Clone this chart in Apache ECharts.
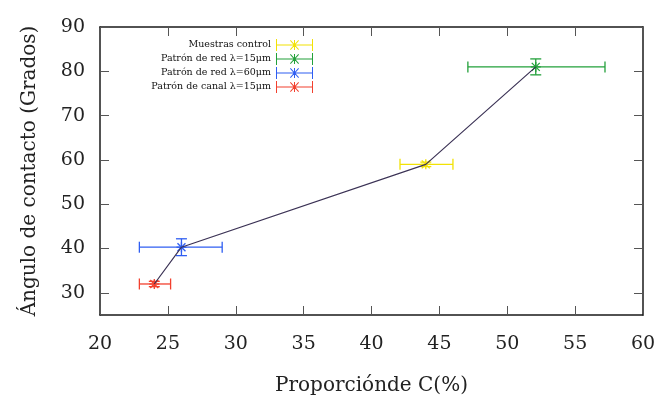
<!DOCTYPE html>
<html>
<head>
<meta charset="utf-8">
<script src="https://cdn.jsdelivr.net/npm/echarts@6/dist/echarts.min.js"></script>
<style>html,body{margin:0;padding:0;background:#fff;}#c{width:660px;height:398px;}</style>
</head>
<body>
<div id="c"></div>
<script>
// ---- data ----
const seriesNames = ['Muestras control', 'Patrón de red λ=15μm', 'Patrón de red λ=60μm', 'Patrón de canal λ=15μm'];
const seriesColors = ['#f2e205', '#22a03a', '#2f5ef2', '#f2402e'];
const xVals  = [44, 52.1, 26, 24];
const yVals  = [59, 81, 40.3, 32];
const xLow   = [42.1, 47.1, 22.9, 22.9];
const xHigh  = [46.0, 57.2, 29.0, 25.2];
const yLow   = [58.5, 79.2, 38.4, 31.4];
const yHigh  = [59.5, 82.8, 42.2, 32.6];
const xTicks = [20, 25, 30, 35, 40, 45, 50, 55, 60];
const yTicks = [30, 40, 50, 60, 70, 80, 90];

const FONT = 'DejaVu Serif';

const legendIcon = 'path://M0 5.5H37V6.5H0Z M0 0H1V12H0Z M36 0H37V12H36Z M18 1H19V11H18Z M13.5 5.5H23.5V6.5H13.5Z M14 1.7L14.7 1L23 10.3L22.3 11Z M22.3 1L23 1.7L14.7 11L14 10.3Z';

function errRender(params, api) {
  const x = api.value(0), y = api.value(1);
  const c = api.coord([x, y]);
  const pl = api.coord([api.value(2), y]);
  const ph = api.coord([api.value(3), y]);
  const ql = api.coord([x, api.value(4)]);
  const qh = api.coord([x, api.value(5)]);
  const col = api.visual('color');
  const st = { stroke: col, lineWidth: 1.3, fill: null };
  const cap = 5.5, r = 5, d = 4;
  const L = (x1, y1, x2, y2) => ({ type: 'line', shape: { x1, y1, x2, y2 }, style: st });
  return {
    type: 'group',
    children: [
      L(pl[0], pl[1], ph[0], ph[1]),
      L(pl[0], pl[1] - cap, pl[0], pl[1] + cap),
      L(ph[0], ph[1] - cap, ph[0], ph[1] + cap),
      L(ql[0], ql[1], qh[0], qh[1]),
      L(ql[0] - cap, ql[1], ql[0] + cap, ql[1]),
      L(qh[0] - cap, qh[1], qh[0] + cap, qh[1]),
      L(c[0] - r, c[1], c[0] + r, c[1]),
      L(c[0], c[1] - r, c[0], c[1] + r),
      L(c[0] - d, c[1] - d, c[0] + d, c[1] + d),
      L(c[0] - d, c[1] + d, c[0] + d, c[1] - d)
    ]
  };
}

const series = seriesNames.map((name, i) => ({
  name,
  type: 'custom',
  renderItem: errRender,
  itemStyle: { color: seriesColors[i] },
  encode: { x: 0, y: 1 },
  data: [[xVals[i], yVals[i], xLow[i], xHigh[i], yLow[i], yHigh[i]]],
  z: 2
}));

const order = xVals.map((v, i) => i).sort((a, b) => xVals[a] - xVals[b]);
series.push({
  name: 'trend',
  type: 'line',
  data: order.map(i => [xVals[i], yVals[i]]),
  symbol: 'none',
  lineStyle: { color: '#3b3255', width: 1.2 },
  z: 3,
  silent: true
});

const tickCommon = { show: true, inside: true, length: 9, lineStyle: { color: '#555', width: 1 } };
const lineCommon = { show: true, lineStyle: { color: '#1a1a1a', width: 1.5 } };

const chart = echarts.init(document.getElementById('c'));
chart.setOption({
  animation: false,
  backgroundColor: '#fff',
  grid: { left: 100, right: 17, top: 27, bottom: 83, containLabel: false, outerBoundsMode: 'none' },
  legend: {
    data: seriesNames,
    orient: 'vertical',
    align: 'right',
    right: 342,
    top: 34,
    itemWidth: 37,
    itemHeight: 12,
    itemGap: 2,
    icon: legendIcon,
    textStyle: { fontFamily: FONT, fontSize: 9.5, color: '#111' },
    selectedMode: false
  },
  xAxis: [{
    type: 'value', min: 20, max: 60, interval: 5,
    name: 'Proporciónde C(%)', nameLocation: 'middle', nameGap: 61,
    nameTextStyle: { fontFamily: FONT, fontSize: 20, color: '#222' },
    axisLine: lineCommon,
    axisTick: Object.assign({}, tickCommon, { customValues: xTicks }),
    axisLabel: { margin: 20, fontFamily: FONT, fontSize: 19, color: '#222', customValues: xTicks },
    splitLine: { show: false }
  }, {
    type: 'value', min: 20, max: 60, interval: 5, position: 'top',
    axisLine: lineCommon,
    axisTick: Object.assign({}, tickCommon, { customValues: xTicks }),
    axisLabel: { show: false }, splitLine: { show: false }
  }],
  yAxis: [{
    type: 'value', min: 25, max: 90, interval: 5,
    name: 'Ángulo de contacto (Grados)', nameLocation: 'middle', nameGap: 60,
    nameTextStyle: { fontFamily: FONT, fontSize: 20, color: '#222' },
    axisLine: lineCommon,
    axisTick: Object.assign({}, tickCommon, { customValues: yTicks }),
    axisLabel: { margin: 15, fontFamily: FONT, fontSize: 19, color: '#222', customValues: yTicks },
    splitLine: { show: false }
  }, {
    type: 'value', min: 25, max: 90, interval: 5, position: 'right',
    axisLine: lineCommon,
    axisTick: Object.assign({}, tickCommon, { customValues: yTicks }),
    axisLabel: { show: false }, splitLine: { show: false }
  }],
  series
});
</script>
</body>
</html>
